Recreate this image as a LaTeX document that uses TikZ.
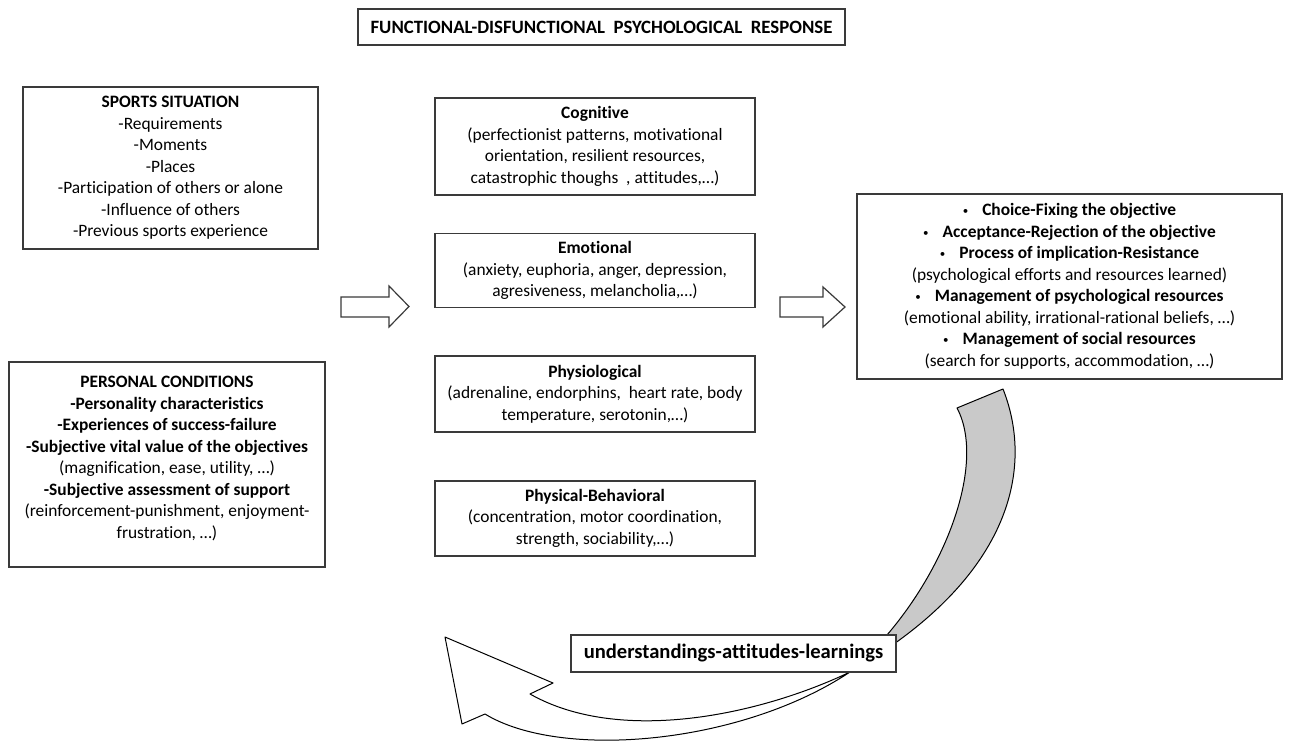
\documentclass[tikz,border=0pt]{standalone}
\usepackage{fontspec}
\setmainfont{Carlito}[Ligatures=NoCommon]
\usepackage{xcolor}
\usetikzlibrary{positioning}
\definecolor{boxline}{HTML}{3A3A3A}
\definecolor{bandgray}{HTML}{C9C9C9}
\newcommand{\smallbullet}{\raisebox{0.6pt}{\fontsize{5.5}{6}\selectfont\textbullet}\hspace{7pt}}
\tikzset{
  factorbox/.style={draw=boxline, line width=0.8pt, fill=white, align=center, inner sep=0pt, font=\fontsize{8.7}{10.75}\selectfont},
  titlebox/.style={factorbox, font=\fontsize{9.4}{11}\selectfont\bfseries},
  learnbox/.style={factorbox, font=\fontsize{10.3}{12}\selectfont\bfseries},
  hollowarrow/.style={draw=boxline, line width=0.6pt, fill=white, line join=miter},
  twistband/.style={draw=black, line width=0.5pt, line join=round}
}

\begin{document}
\begin{tikzpicture}[x=0.5pt, y=-0.5pt]
  \useasboundingbox (0,0) rectangle (1306,743);
  \node[titlebox, minimum width=243.5pt, minimum height=18pt] (title) at (601.5,27) {FUNCTIONAL-DISFUNCTIONAL\ \ PSYCHOLOGICAL\ \ RESPONSE};

  % left column
  \node[factorbox, minimum width=147.5pt, minimum height=81pt] (sports) at (170.5,168)
    {\textbf{SPORTS SITUATION}\\-Requirements\\-Moments\\-Places\\-Participation of others or alone\\-Influence of others\\-Previous sports experience};
  \node[factorbox, minimum width=158pt, minimum height=102.5pt] (personal) at (167,464.5)
    {\textbf{PERSONAL CONDITIONS}\\\textbf{-Personality characteristics}\\\textbf{-Experiences of success-failure}\\\textbf{-Subjective vital value of the objectives}\\(magnification, ease, utility, …)\\\textbf{-Subjective assessment of support}\\(reinforcement-punishment, enjoyment-\\frustration, …)\\[-3.75pt]\mbox{}};

  % middle column
  \node[factorbox, minimum width=160pt, minimum height=48.5pt] (cognitive) at (595,146.5)
    {\textbf{Cognitive}\\(perfectionist patterns, motivational\\orientation, resilient resources,\\catastrophic thoughs\ \ , attitudes,…)};
  \node[factorbox, minimum width=160pt, minimum height=37pt, below=18.5pt of cognitive] (emotional)
    {\textbf{Emotional}\\(anxiety, euphoria, anger, depression,\\agresiveness, melancholia,…)};
  \node[factorbox, minimum width=160pt, minimum height=38pt, below=23.5pt of emotional] (physio)
    {\textbf{Physiological}\\(adrenaline, endorphins,\ \ heart rate, body\\temperature, serotonin,…)};
  \node[factorbox, minimum width=160pt, minimum height=37.5pt, below=23.5pt of physio] (physical)
    {\textbf{Physical-Behavioral}\\(concentration, motor coordination,\\strength, sociability,…)};

  % right box
  \node[factorbox, minimum width=212.5pt, minimum height=92.5pt] (process) at (1069.5,286.5)
    {\smallbullet\textbf{Choice-Fixing the objective}\\
     \smallbullet\textbf{Acceptance-Rejection of the objective}\\
     \smallbullet\textbf{Process of implication-Resistance}\\
     (psychological efforts and resources learned)\\
     \smallbullet\textbf{Management of psychological resources}\\
     (emotional ability, irrational-rational beliefs, …)\\
     \smallbullet\textbf{Management of social resources}\\
     (search for supports, accommodation, …)};

  % block arrows
  \draw[hollowarrow] (341,297) -- (389,297) -- (389,286) -- (409,306.5) -- (389,327) -- (389,317) -- (341,317) -- cycle;
  \draw[hollowarrow] (780,297) -- (823,297) -- (823,287) -- (845,307) -- (823,327) -- (823,317) -- (780,317) -- cycle;

  % curved return arrow
  \draw[twistband, fill=bandgray] (957,408) -- (1003,389) .. controls (1035,470) and (1010,580) .. (850,672)
    .. controls (935,600) and (990,470) .. (957,408) -- cycle;
  \draw[twistband, fill=white] (850,672) .. controls (760,715) and (620,745) .. (530,694) -- (553,683) -- (445,637)
    -- (462,724) -- (485,714) .. controls (560,760) and (740,745) .. (850,672) -- cycle;
  \node[learnbox, minimum width=162.5pt, minimum height=18.5pt] (learn) at (733.5,653.5) {understandings-attitudes-learnings};
\end{tikzpicture}
\end{document}
